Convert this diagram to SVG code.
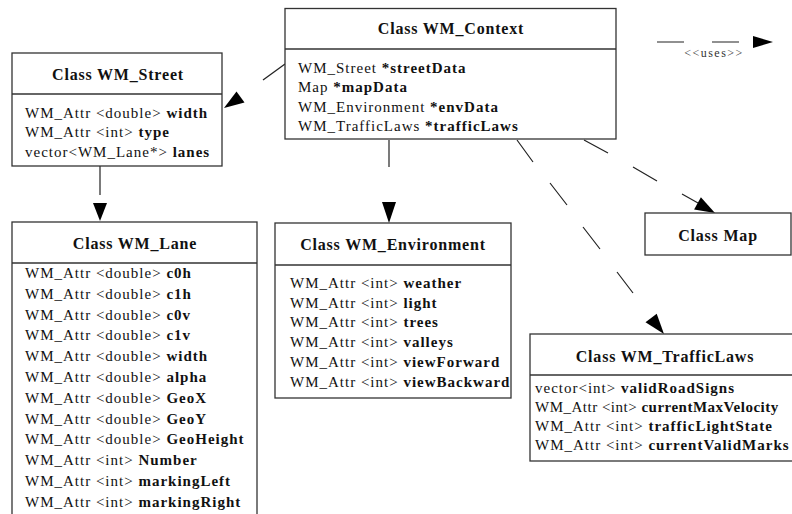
<svg xmlns="http://www.w3.org/2000/svg" width="792" height="514" viewBox="0 0 792 514">
<style>
.box{fill:#fff;stroke:#333;stroke-width:1.3}
.title{font-family:"Liberation Serif","Times New Roman",serif;font-size:16px;font-weight:bold;text-anchor:middle;letter-spacing:0.8px;fill:#111}
.attr{font-family:"Liberation Serif","Times New Roman",serif;font-size:15px;letter-spacing:1px;fill:#111}
.b{font-weight:bold}
.conn{stroke:#222;stroke-width:1.2;fill:none}
.head{fill:#000}
.lbl{font-family:"Liberation Serif","Times New Roman",serif;font-size:12px;letter-spacing:1.5px;text-anchor:middle;fill:#333}
</style>
<rect width="792" height="514" fill="#fff"/>

<g id="connectors">
  <path class="conn" d="M285,64 L263,80"/>
  <polygon class="head" points="224,108 236.5,91.4 244.5,102.6"/>
  <path class="conn" d="M389,140 V167"/>
  <polygon class="head" points="382,202 396,202 389,223"/>
  <path class="conn" d="M100,166 V195"/>
  <polygon class="head" points="93,203 107,203 100,221"/>
  <path class="conn" d="M584,140 L608,153 M633,167 L657,181 M682,194 L698,203"/>
  <polygon class="head" points="715,213 694.1,209.4 700.9,197.2"/>
  <path class="conn" d="M517,140 L533,162 M550,183 L567,205 M583,227 L600,249 M617,272 L633,293"/>
  <polygon class="head" points="664,334 645.5,322.2 656.7,313.8"/>
  <path class="conn" d="M657,42 H684 M712,42 H739"/>
  <polygon class="head" points="753,36 773,42 753,48"/>
  <text class="lbl" x="714" y="57">&lt;&lt;uses&gt;&gt;</text>
</g>

<g id="context">
  <rect class="box" x="285" y="8.5" width="331" height="130.5"/>
  <line class="box" x1="285" y1="49" x2="616" y2="49"/>
  <text class="title" x="451" y="34">Class WM_Context</text>
  <text class="attr" x="298" y="73">WM_Street <tspan class="b">*streetData</tspan></text>
  <text class="attr" x="298" y="92">Map <tspan class="b">*mapData</tspan></text>
  <text class="attr" x="298" y="112">WM_Environment <tspan class="b">*envData</tspan></text>
  <text class="attr" x="298" y="131">WM_TrafficLaws <tspan class="b">*trafficLaws</tspan></text>
</g>

<g id="street">
  <rect class="box" x="12" y="53" width="210" height="113"/>
  <line class="box" x1="12" y1="94" x2="222" y2="94"/>
  <text class="title" x="118" y="80">Class WM_Street</text>
  <text class="attr" x="25" y="118">WM_Attr &lt;double&gt; <tspan class="b">width</tspan></text>
  <text class="attr" x="25" y="137">WM_Attr &lt;int&gt; <tspan class="b">type</tspan></text>
  <text class="attr" x="25" y="157">vector&lt;WM_Lane*&gt; <tspan class="b">lanes</tspan></text>
</g>

<g id="lane">
  <rect class="box" x="12" y="222" width="245" height="310"/>
  <line class="box" x1="12" y1="263" x2="257" y2="263"/>
  <text class="title" x="135" y="249">Class WM_Lane</text>
  <text class="attr" x="25" y="278">WM_Attr &lt;double&gt; <tspan class="b">c0h</tspan></text>
  <text class="attr" x="25" y="298.8">WM_Attr &lt;double&gt; <tspan class="b">c1h</tspan></text>
  <text class="attr" x="25" y="319.6">WM_Attr &lt;double&gt; <tspan class="b">c0v</tspan></text>
  <text class="attr" x="25" y="340.4">WM_Attr &lt;double&gt; <tspan class="b">c1v</tspan></text>
  <text class="attr" x="25" y="361.2">WM_Attr &lt;double&gt; <tspan class="b">width</tspan></text>
  <text class="attr" x="25" y="382">WM_Attr &lt;double&gt; <tspan class="b">alpha</tspan></text>
  <text class="attr" x="25" y="402.8">WM_Attr &lt;double&gt; <tspan class="b">GeoX</tspan></text>
  <text class="attr" x="25" y="423.6">WM_Attr &lt;double&gt; <tspan class="b">GeoY</tspan></text>
  <text class="attr" x="25" y="444.4">WM_Attr &lt;double&gt; <tspan class="b">GeoHeight</tspan></text>
  <text class="attr" x="25" y="465.2">WM_Attr &lt;int&gt; <tspan class="b">Number</tspan></text>
  <text class="attr" x="25" y="486">WM_Attr &lt;int&gt; <tspan class="b">markingLeft</tspan></text>
  <text class="attr" x="25" y="506.8">WM_Attr &lt;int&gt; <tspan class="b">markingRight</tspan></text>
</g>

<g id="environment">
  <rect class="box" x="275" y="223" width="236" height="175"/>
  <line class="box" x1="275" y1="265" x2="511" y2="265"/>
  <text class="title" x="393" y="250">Class WM_Environment</text>
  <text class="attr" x="290" y="288">WM_Attr &lt;int&gt; <tspan class="b">weather</tspan></text>
  <text class="attr" x="290" y="308">WM_Attr &lt;int&gt; <tspan class="b">light</tspan></text>
  <text class="attr" x="290" y="327">WM_Attr &lt;int&gt; <tspan class="b">trees</tspan></text>
  <text class="attr" x="290" y="347">WM_Attr &lt;int&gt; <tspan class="b">valleys</tspan></text>
  <text class="attr" x="290" y="367">WM_Attr &lt;int&gt; <tspan class="b">viewForward</tspan></text>
  <text class="attr" x="290" y="387">WM_Attr &lt;int&gt; <tspan class="b">viewBackward</tspan></text>
</g>

<g id="map">
  <rect class="box" x="645" y="213" width="146" height="42"/>
  <text class="title" x="718" y="241">Class Map</text>
</g>

<g id="trafficlaws">
  <rect class="box" x="530" y="334" width="270" height="127"/>
  <line class="box" x1="530" y1="375" x2="800" y2="375"/>
  <text class="title" x="665" y="362">Class WM_TrafficLaws</text>
  <text class="attr" x="535" y="393">vector&lt;int&gt; <tspan class="b">validRoadSigns</tspan></text>
  <text class="attr" x="535" y="412" style="letter-spacing:0.5px">WM_Attr &lt;int&gt; <tspan class="b">currentMaxVelocity</tspan></text>
  <text class="attr" x="535" y="431">WM_Attr &lt;int&gt; <tspan class="b">trafficLightState</tspan></text>
  <text class="attr" x="535" y="450">WM_Attr &lt;int&gt; <tspan class="b">currentValidMarks</tspan></text>
</g>
</svg>
